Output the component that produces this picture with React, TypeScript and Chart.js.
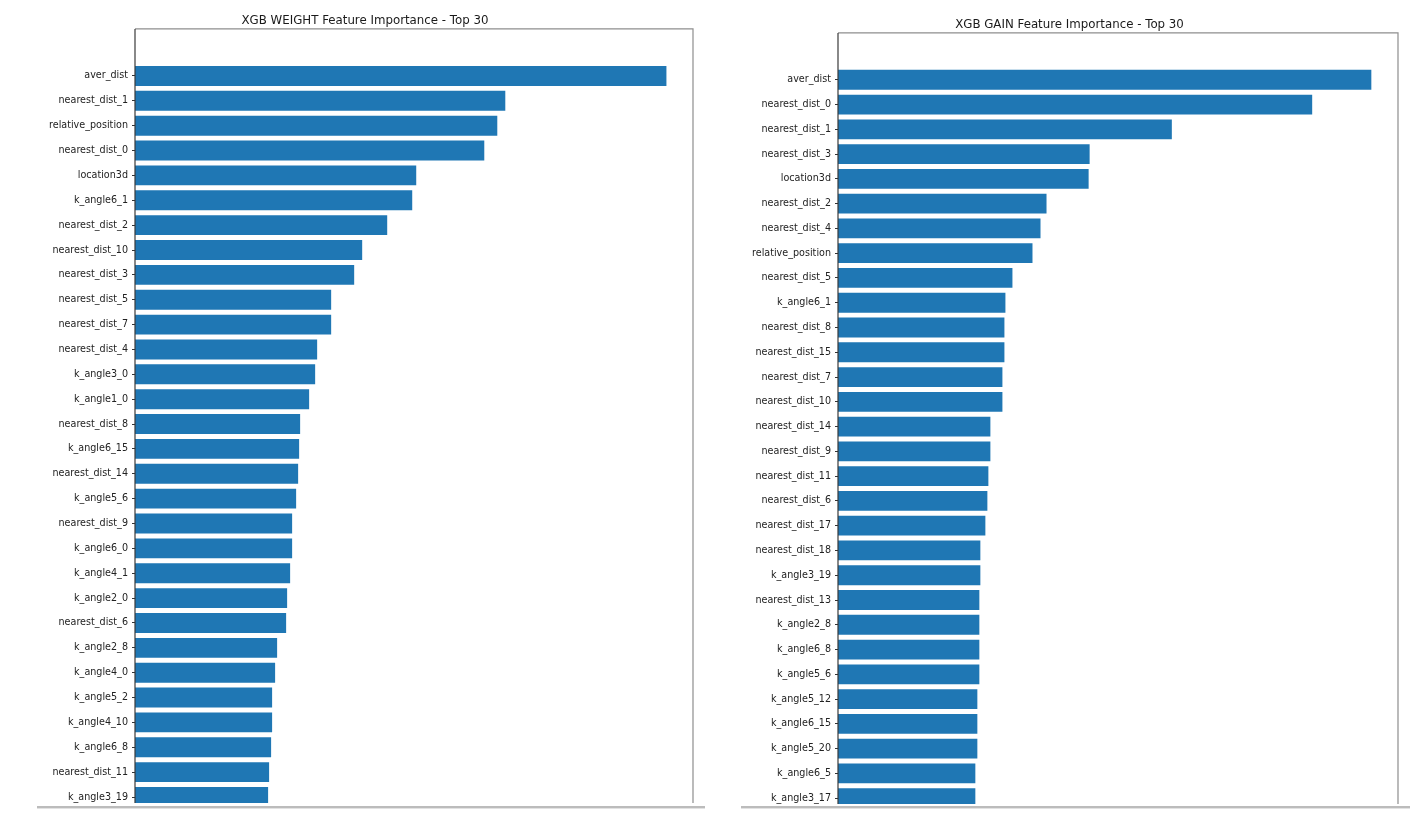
import React, { useEffect, useRef } from "react";
import { Chart, registerables } from "chart.js";

Chart.register(...registerables);

// ---- data (relative importance scores) ----
const weightFeatures = [
  "aver_dist", "nearest_dist_1", "relative_position", "nearest_dist_0", "location3d",
  "k_angle6_1", "nearest_dist_2", "nearest_dist_10", "nearest_dist_3", "nearest_dist_5",
  "nearest_dist_7", "nearest_dist_4", "k_angle3_0", "k_angle1_0", "nearest_dist_8",
  "k_angle6_15", "nearest_dist_14", "k_angle5_6", "nearest_dist_9", "k_angle6_0",
  "k_angle4_1", "k_angle2_0", "nearest_dist_6", "k_angle2_8", "k_angle4_0",
  "k_angle5_2", "k_angle4_10", "k_angle6_8", "nearest_dist_11", "k_angle3_19",
];
const weightValues = [
  531, 370, 362, 349, 281, 277, 252, 227, 219, 196,
  196, 182, 180, 174, 165, 164, 163, 161, 157, 157,
  155, 152, 151, 142, 140, 137, 137, 136, 134, 133,
];

const gainFeatures = [
  "aver_dist", "nearest_dist_0", "nearest_dist_1", "nearest_dist_3", "location3d",
  "nearest_dist_2", "nearest_dist_4", "relative_position", "nearest_dist_5", "k_angle6_1",
  "nearest_dist_8", "nearest_dist_15", "nearest_dist_7", "nearest_dist_10", "nearest_dist_14",
  "nearest_dist_9", "nearest_dist_11", "nearest_dist_6", "nearest_dist_17", "nearest_dist_18",
  "k_angle3_19", "nearest_dist_13", "k_angle2_8", "k_angle6_8", "k_angle5_6",
  "k_angle5_12", "k_angle6_15", "k_angle5_20", "k_angle6_5", "k_angle3_17",
];
const gainValues = [
  532, 473, 333, 251, 250, 208, 202, 194, 174, 167,
  166, 166, 164, 164, 152, 152, 150, 149, 147, 142,
  142, 141, 141, 141, 141, 139, 139, 139, 137, 137,
];

const titles = [
  "XGB WEIGHT Feature Importance - Top 30",
  "XGB GAIN Feature Importance - Top 30",
];

const FONT = "'DejaVu Sans', 'Liberation Sans', sans-serif";

const framePlugin = {
  id: "mplFrame",
  afterDatasetsDraw(chart: any) {
    const { ctx, chartArea: a } = chart;
    ctx.save();
    ctx.lineWidth = 1.2;
    ctx.strokeStyle = "#8e8e8e";
    ctx.beginPath();
    ctx.moveTo(a.left, a.top);
    ctx.lineTo(a.right, a.top);
    ctx.lineTo(a.right, a.bottom);
    ctx.lineTo(a.left, a.bottom);
    ctx.stroke();
    ctx.strokeStyle = "#3a3a3a";
    ctx.beginPath();
    ctx.moveTo(a.left, a.top);
    ctx.lineTo(a.left, a.bottom);
    ctx.stroke();
    ctx.restore();
  },
};

type Props = {
  title: string;
  features: string[];
  values: number[];
  width: number;
  height: number;
  areaLeft: number;
  padRight: number;
  titlePadTop: number;
};

function FeatureChart({ title, features, values, width, height, areaLeft, padRight, titlePadTop }: Props) {
  const ref = useRef<HTMLCanvasElement | null>(null);

  useEffect(() => {
    if (!ref.current) return;
    const n = features.length;
    // matplotlib-style 5% data margins around bars of height 0.8
    const span = n - 1 + 0.8;
    const yMin = -0.4 - 0.05 * span;
    const yMax = n - 1 + 0.4 + 0.05 * span;
    const xMax = Math.max(...values) * 1.05;

    const chart = new Chart(ref.current, {
      type: "bar",
      data: {
        datasets: [
          {
            data: values.map((v, i) => ({ x: v, y: i })),
            backgroundColor: "#1f77b4",
            borderWidth: 0,
            barPercentage: 0.8,
            categoryPercentage: 1,
          },
        ],
      },
      options: {
        indexAxis: "y",
        animation: false,
        responsive: false,
        devicePixelRatio: window.devicePixelRatio || 1,
        layout: { padding: { left: 0, right: padRight, top: 0, bottom: 0 } },
        plugins: {
          legend: { display: false },
          tooltip: { enabled: false },
          title: {
            display: true,
            text: title,
            color: "#1a1a1a",
            font: { family: FONT, size: 11.8, weight: "normal", lineHeight: 1.2 },
            padding: { top: titlePadTop, bottom: 1.4 },
          },
        },
        scales: {
          x: { type: "linear", display: false, min: 0, max: xMax },
          y: {
            type: "linear",
            reverse: true,
            offset: false,
            min: yMin,
            max: yMax,
            afterBuildTicks: (scale: any) => {
              scale.ticks = features.map((_, i) => ({ value: i }));
            },
            afterFit: (scale: any) => {
              scale.width = areaLeft;
              scale.paddingTop = 0;
              scale.paddingBottom = 0;
            },
            ticks: {
              autoSkip: false,
              padding: 4,
              color: "#222",
              font: { family: FONT, size: 9.6 },
              callback: (v: any) => features[Math.round(Number(v))] ?? "",
            },
            grid: { offset: false, drawOnChartArea: false, drawTicks: true, tickLength: 3, color: "#333", lineWidth: 1 },
            border: { display: false },
          },
        },
      },
      plugins: [framePlugin],
    } as any);
    return () => chart.destroy();
  }, [title, features, values, width, height, areaLeft, padRight, titlePadTop]);

  return <canvas ref={ref} width={width} height={height} style={{ display: "block", width, height }} />;
}

export default function App() {
  return (
    <div style={{ position: "absolute", left: 0, top: 0, width: 1426, height: 829, background: "#fff", overflow: "hidden" }}>
      <div style={{ position: "absolute", left: 37, top: 0, width: 668, height: 803, overflow: "hidden" }}>
        <FeatureChart
          title={titles[0]}
          features={weightFeatures}
          values={weightValues}
          width={668}
          height={844}
          areaLeft={98}
          padRight={12}
          titlePadTop={13.4}
        />
      </div>
      <div style={{ position: "absolute", left: 37, top: 806, width: 668, height: 2, background: "#bcbcbc" }} />
      <div style={{ position: "absolute", left: 37, top: 808, width: 668, height: 1, background: "#e2e2e2" }} />

      <div style={{ position: "absolute", left: 741, top: 0, width: 669, height: 804, overflow: "hidden" }}>
        <FeatureChart
          title={titles[1]}
          features={gainFeatures}
          values={gainValues}
          width={669}
          height={845}
          areaLeft={97}
          padRight={12}
          titlePadTop={17.4}
        />
      </div>
      <div style={{ position: "absolute", left: 741, top: 806, width: 669, height: 2, background: "#bcbcbc" }} />
      <div style={{ position: "absolute", left: 741, top: 808, width: 669, height: 1, background: "#e2e2e2" }} />
    </div>
  );
}
